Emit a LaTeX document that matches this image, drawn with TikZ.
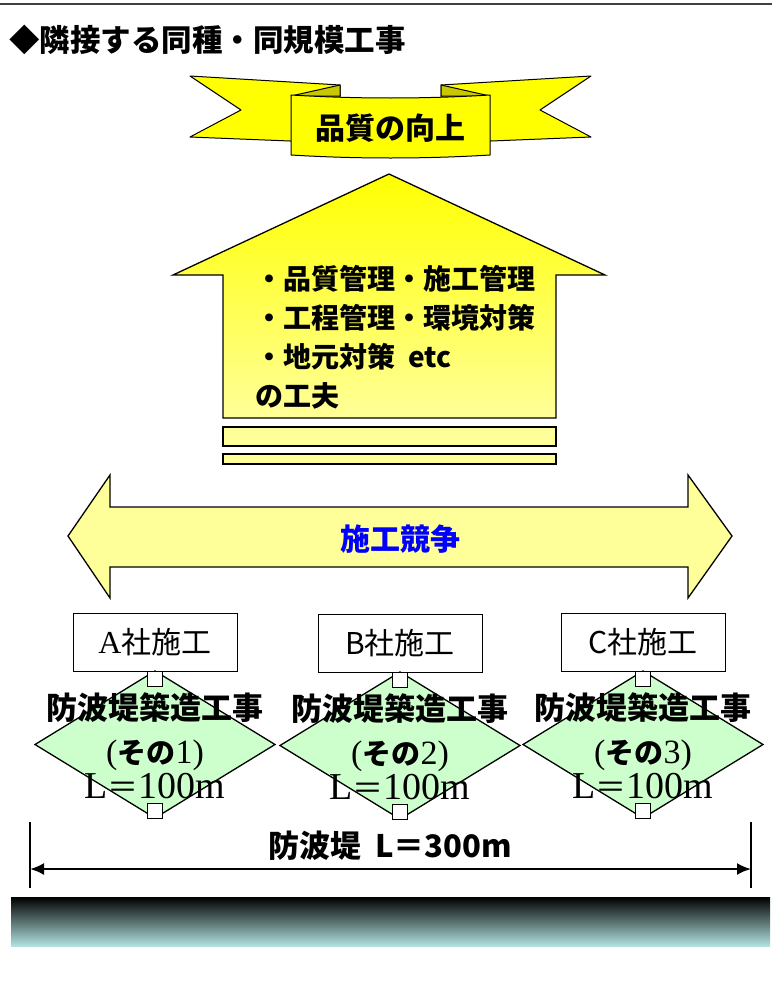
\documentclass[tikz,border=0pt]{standalone}
\usepackage{fontspec}
\usepackage{tikz}
\usetikzlibrary{calc,positioning,shapes,arrows.meta}
\newfontfamily\kaku{Noto Sans CJK JP}
\newfontfamily\mincho{Liberation Serif}
\newcommand{\latin}[2]{{\mincho\mdseries\fontsize{#1}{#1}\selectfont #2}}
\newcommand{\lotlabel}[1]{防波堤築造工事\\[4pt]\latin{34}{(}{\fontsize{29}{29}\selectfont その}\latin{34}{#1)}\\[-5pt]{\mdseries\latin{38}{L}\fontsize{31}{31}\selectfont ＝\latin{38}{100m}}}
\definecolor{ribbon}{HTML}{FFFF00}
\definecolor{ribbonfold}{HTML}{C8C800}
\definecolor{paleyellow}{HTML}{FFFF99}
\definecolor{lotgreen}{HTML}{CCFFCC}
\definecolor{seacyan}{HTML}{B2E2E0}

\begin{document}
\begin{tikzpicture}[x=1pt,y=-1pt,
	ribbonpart/.style={draw,line width=1pt,fill=ribbon,line join=round},
	firm/.style={draw,fill=white,line width=1pt,minimum width=164pt,minimum height=58pt,inner sep=0pt,outer sep=0pt,font=\kaku\fontsize{30}{30}\selectfont},
	lot/.style={shape=diamond,draw,fill=lotgreen,line width=1.3pt,minimum width=240pt,minimum height=147pt,inner sep=0pt,outer sep=0pt},
	notch/.style={draw,fill=white,line width=1pt,minimum width=15pt,minimum height=15pt,inner sep=0pt,outer sep=0pt},
	lottext/.style={align=center,inner sep=0pt,font=\kaku\bfseries\fontsize{31}{40}\selectfont},
	bold/.style={inner sep=0pt,font=\kaku\bfseries\fontsize{#1}{#1}\selectfont}]
		\useasboundingbox (0,0) rectangle (772,990);
		\draw[line width=2.5pt,black!75] (0,4) -- (772,4);
		\node(title) [bold=30.5,anchor=west] at (9,40) {◆隣接する同種・同規模工事};
		% ribbon
		\path[ribbonpart] (190,76) -- (340,85) -- (340,143) -- (190,137) -- (241,110) -- cycle;
		\path[ribbonpart] (591,76) -- (441,85) -- (441,143) -- (591,137) -- (540,110) -- cycle;
		\path[ribbonpart,fill=ribbonfold] (291,96) -- (340,85) -- (340,96) -- cycle;
		\path[ribbonpart,fill=ribbonfold] (490,96) -- (441,85) -- (441,96) -- cycle;
		\path[ribbonpart] (291,95) .. controls (357,99) and (424,99) .. (490,95) -- (490,155)
			.. controls (424,159) and (357,159) .. (291,155) -- cycle;
		\node(kojo) [bold=30] at (390,128) {品質の向上};
		% house
		\shadedraw[top color=yellow,bottom color=paleyellow,line width=1.3pt]
			(389,174) -- (605,275) -- (556,275) -- (556,418) -- (223,418) -- (223,275) -- (173,275) -- cycle;
		\draw[line width=1.3pt,fill=paleyellow] (223,427) rectangle (556,446);
		\draw[line width=1.3pt,fill=paleyellow] (223,454) rectangle (556,464);
		\node(kufu) [anchor=north west,align=left,inner sep=0pt,font=\kaku\bfseries\fontsize{28}{39}\selectfont] at (255,265)
			{・品質管理・施工管理\\・工程管理・環境対策\\・地元対策 \ etc\\の工夫};
		% competition
		\draw[line width=1.3pt,fill=paleyellow] (68,536) -- (110,475) -- (110,507) -- (688,507) -- (688,475)
			-- (732,536) -- (688,598) -- (688,567) -- (110,567) -- (110,598) -- cycle;
		\node(kyoso) [bold=30,text=blue] at (400,539) {施工競争};
		% contractors and lots
		\node(firmA) [firm] at (155,642) {\latin{32}{A}社施工};
		\node(firmB) [firm] at (400,643) {B社施工};
		\node(firmC) [firm] at (643,642) {C社施工};
		\node(lotA) [lot,below=0pt of firmA] {};
		\node(lotB) [lot,below=0pt of firmB] {};
		\node(lotC) [lot,below=0pt of firmC] {};
		\node(topA) [notch,below=0pt of firmA] {};
		\node(topB) [notch,below=0pt of firmB] {};
		\node(topC) [notch,below=0pt of firmC] {};
		\node(botA) [notch,anchor=south] at (lotA.south) {};
		\node(botB) [notch,anchor=south] at (lotB.south) {};
		\node(botC) [notch,anchor=south] at (lotC.south) {};
		\node(textA) [lottext] at ($(lotA.center)+(0,1)$) {\lotlabel{1}};
		\node(textB) [lottext] at ($(lotB.center)+(0,1)$) {\lotlabel{2}};
		\node(textC) [lottext] at ($(lotC.center)+(0,1)$) {\lotlabel{3}};
		% overall length
		\coordinate(dimL) at (30,869);
		\coordinate(dimR) at (751,869);
		\draw[line width=1.2pt] ($(dimL)+(0,-47)$) -- ($(dimL)+(0,19)$);
		\draw[line width=1.2pt] ($(dimR)+(0,-47)$) -- ($(dimR)+(0,19)$);
		\draw[line width=2.2pt,{Latex[length=14pt,width=12pt]}-{Latex[length=14pt,width=12pt]}] (dimL) -- (dimR);
		\node(seawall) [bold=31] at (390,846) {防波堤\ \ L＝300m};
		\shade[top color=black,middle color=black!65,bottom color=seacyan] (11,897) rectangle (770,946);
\end{tikzpicture}
\end{document}
